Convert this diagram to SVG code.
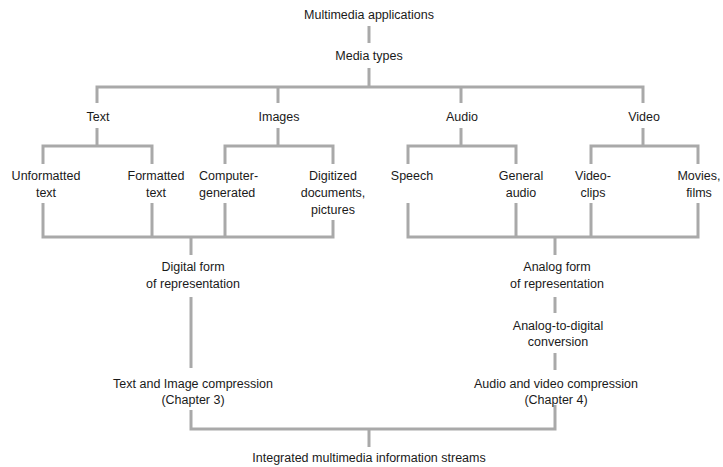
<svg xmlns="http://www.w3.org/2000/svg" width="723" height="467" viewBox="0 0 723 467">
<style>
text{font-family:"Liberation Sans",Arial,sans-serif;font-size:12.5px;fill:#1a1a1a;text-anchor:middle}
.c path{fill:none;stroke:#a9a9a9;stroke-width:3}
</style>
<rect width="723" height="467" fill="#fff"/>
<g class="c" id="connectors">
<path d="M369,26V43"/>
<path d="M369,68V87"/>
<path d="M97,103V87H643V103M278,87V103M461,87V103"/>
<path d="M97,128V146M278,128V146M461,128V146M643,128V146"/>
<path d="M43,164V146H152V164M225,164V146H333V164M408,164V146H516V164M591,164V146H698V164"/>
<path d="M43,203V237H333V220M152,203V237M225,203V237M191,237V255"/>
<path d="M408,203V237H698V203M516,203V237M591,203V237M555,237V255"/>
<path d="M191,297V368"/>
<path d="M555,297V313M555,353V370"/>
<path d="M191,410V429H555V405M369,429V447"/>
</g>
<g id="n-apps"><text x="369" y="19">Multimedia applications</text></g>
<g id="n-media"><text x="369" y="60">Media types</text></g>
<g id="n-text"><text x="98" y="121">Text</text></g>
<g id="n-images"><text x="279" y="121">Images</text></g>
<g id="n-audio"><text x="462" y="121">Audio</text></g>
<g id="n-video"><text x="644" y="121">Video</text></g>
<g id="n-unformatted"><text x="46" y="180">Unformatted</text><text x="46" y="197">text</text></g>
<g id="n-formatted"><text x="156" y="180">Formatted</text><text x="156" y="197">text</text></g>
<g id="n-computer"><text x="199" y="180" style="text-anchor:start">Computer-</text><text x="199" y="197" style="text-anchor:start">generated</text></g>
<g id="n-digitized"><text x="333" y="180">Digitized</text><text x="333" y="197">documents,</text><text x="333" y="214">pictures</text></g>
<g id="n-speech"><text x="412" y="180">Speech</text></g>
<g id="n-general"><text x="521" y="180">General</text><text x="521" y="197">audio</text></g>
<g id="n-clips"><text x="593" y="180">Video-</text><text x="593" y="197">clips</text></g>
<g id="n-movies"><text x="699" y="180">Movies,</text><text x="699" y="197">films</text></g>
<g id="n-digital"><text x="193" y="271">Digital form</text><text x="193" y="288">of representation</text></g>
<g id="n-analog"><text x="557" y="271">Analog form</text><text x="557" y="288">of representation</text></g>
<g id="n-a2d"><text x="558" y="330">Analog-to-digital</text><text x="558" y="346">conversion</text></g>
<g id="n-tic"><text x="193" y="388">Text and Image compression</text><text x="193" y="404">(Chapter 3)</text></g>
<g id="n-avc"><text x="556" y="388">Audio and video compression</text><text x="556" y="404">(Chapter 4)</text></g>
<g id="n-streams"><text x="369" y="462">Integrated multimedia information streams</text></g>
</svg>
